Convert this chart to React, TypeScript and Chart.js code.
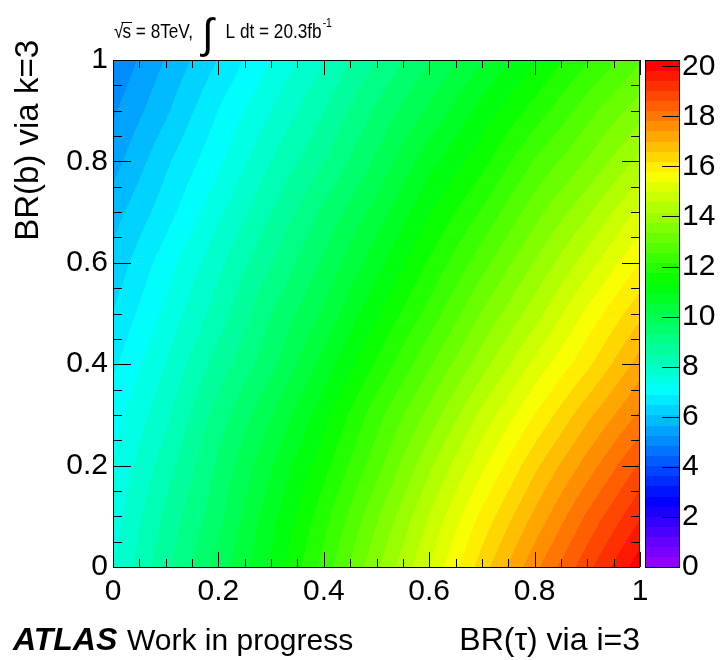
import { useEffect, useRef } from 'react';
import { Chart, registerables } from 'chart.js';

Chart.register(...registerables);

// Grid of the scan: BR(tau) along x, BR(b) along y
const brTau = [0, 0.1, 0.2, 0.3, 0.4, 0.5, 0.6, 0.7, 0.8, 0.9, 1];
const brB = [0, 0.1, 0.2, 0.3, 0.4, 0.5, 0.6, 0.7, 0.8, 0.9, 1];

// One row per BR(b) value (bottom to top), columns follow brTau
const rowB00 = [7.7, 8.8, 9.9, 11.0, 12.3, 13.7, 15.0, 16.4, 17.7, 18.9, 20.1];
const rowB01 = [7.5, 8.6, 9.6, 10.8, 12.0, 13.3, 14.6, 15.9, 17.1, 18.3, 19.4];
const rowB02 = [7.3, 8.3, 9.4, 10.5, 11.6, 12.8, 14.1, 15.3, 16.5, 17.6, 18.7];
const rowB03 = [7.1, 8.0, 9.1, 10.1, 11.2, 12.4, 13.5, 14.7, 15.8, 16.9, 17.9];
const rowB04 = [6.8, 7.7, 8.7, 9.6, 10.7, 11.8, 12.9, 14.0, 15.1, 16.1, 17.2];
const rowB05 = [6.5, 7.4, 8.3, 9.3, 10.2, 11.3, 12.3, 13.4, 14.4, 15.5, 16.5];
const rowB06 = [6.2, 7.1, 8.0, 8.9, 9.8, 10.8, 11.8, 12.8, 13.8, 14.8, 15.8];
const rowB07 = [5.9, 6.7, 7.6, 8.5, 9.4, 10.3, 11.3, 12.2, 13.2, 14.1, 15.1];
const rowB08 = [5.5, 6.4, 7.2, 8.1, 8.9, 9.8, 10.8, 11.6, 12.6, 13.4, 14.3];
const rowB09 = [5.2, 6.0, 6.9, 7.7, 8.5, 9.4, 10.2, 11.1, 11.9, 12.8, 13.6];
const rowB10 = [4.9, 5.7, 6.5, 7.3, 8.1, 8.9, 9.7, 10.5, 11.3, 12.1, 12.9];
const zRows = [rowB00, rowB01, rowB02, rowB03, rowB04, rowB05, rowB06, rowB07, rowB08, rowB09, rowB10];

const xTicks = [0, 0.2, 0.4, 0.6, 0.8, 1];
const yTicks = [0, 0.2, 0.4, 0.6, 0.8, 1];
const zTicks = [0, 2, 4, 6, 8, 10, 12, 14, 16, 18, 20];
const zMin = 0;
const zMax = 20.25;
const nLevels = 50;

const xTitle = 'BR(\u03c4) via i=3';
const yTitle = 'BR(b) via k=3';
const energyText = ' = 8TeV,';
const lumiText = 'L dt = 20.3fb';
const lumiExp = '-1';

const FONT = '"Liberation Sans", Arial, Helvetica, sans-serif';

function hslToRgb(h: number, s: number, l: number): [number, number, number] {
  const c = (1 - Math.abs(2 * l - 1)) * s;
  const hp = (((h % 360) + 360) % 360) / 60;
  const x = c * (1 - Math.abs((hp % 2) - 1));
  let r = 0, g = 0, b = 0;
  if (hp < 1) { r = c; g = x; }
  else if (hp < 2) { r = x; g = c; }
  else if (hp < 3) { g = c; b = x; }
  else if (hp < 4) { g = x; b = c; }
  else if (hp < 5) { r = x; b = c; }
  else { r = c; b = x; }
  const m = l - c / 2;
  return [Math.round((r + m) * 255), Math.round((g + m) * 255), Math.round((b + m) * 255)];
}

// violet -> red spectrum, one colour per contour level
const palette: [number, number, number][] = [];
for (let i = 0; i < nLevels; i++) palette.push(hslToRgb(280 - (i + 1) * (280 / nLevels), 1, 0.5));

function levelOf(v: number) {
  const i = Math.floor(((v - zMin) / (zMax - zMin)) * nLevels);
  return Math.max(0, Math.min(nLevels - 1, i));
}

function locate(arr: number[], v: number): [number, number] {
  let i = 0;
  while (i < arr.length - 2 && v > arr[i + 1]) i++;
  const t = (v - arr[i]) / (arr[i + 1] - arr[i]);
  return [i, Math.max(0, Math.min(1, t))];
}

function sampleZ(xv: number, yv: number) {
  const [i, tx] = locate(brTau, xv);
  const [j, ty] = locate(brB, yv);
  const r0 = zRows[j];
  const r1 = zRows[j + 1];
  const a = r0[i] * (1 - tx) + r0[i + 1] * tx;
  const b = r1[i] * (1 - tx) + r1[i + 1] * tx;
  return a * (1 - ty) + b * ty;
}

const fmt = (v: number) => String(Number(Number(v).toFixed(2)));

// draws text squeezed horizontally, returns its advance
function narrowText(ctx: CanvasRenderingContext2D, text: string, x: number, y: number, sx: number) {
  ctx.save();
  ctx.translate(x, y);
  ctx.scale(sx, 1);
  ctx.fillText(text, 0, 0);
  const w = ctx.measureText(text).width * sx;
  ctx.restore();
  return w;
}

const contourPlugin = {
  id: 'contourField',
  beforeDatasetsDraw(chart: any) {
    const { ctx, chartArea: a, scales } = chart;
    const sx = scales.x;
    const sy = scales.y;
    const w = Math.round(a.right - a.left);
    const h = Math.round(a.bottom - a.top);
    const off = document.createElement('canvas');
    off.width = w;
    off.height = h;
    const octx = off.getContext('2d')!;
    const img = octx.createImageData(w, h);
    const xs: number[] = [];
    for (let px = 0; px < w; px++) xs.push(sx.getValueForPixel(a.left + px + 0.5));
    for (let py = 0; py < h; py++) {
      const yv = sy.getValueForPixel(a.top + py + 0.5);
      for (let px = 0; px < w; px++) {
        const c = palette[levelOf(sampleZ(xs[px], yv))];
        const k = (py * w + px) * 4;
        img.data[k] = c[0];
        img.data[k + 1] = c[1];
        img.data[k + 2] = c[2];
        img.data[k + 3] = 255;
      }
    }
    octx.putImageData(img, 0, 0);
    ctx.save();
    ctx.imageSmoothingEnabled = false;
    ctx.drawImage(off, a.left, a.top);
    ctx.restore();
  },
  afterDraw(chart: any) {
    const { ctx, chartArea: a, scales } = chart;
    const sx = scales.x;
    const sy = scales.y;
    const sz = scales.z;
    ctx.save();
    ctx.strokeStyle = '#000';
    ctx.lineWidth = 1;

    // tick marks on all four sides, pointing inwards
    const minorX: number[] = [];
    for (let k = 0; k <= 20; k++) minorX.push(k * 0.05);
    ctx.beginPath();
    minorX.forEach((v) => {
      const major = xTicks.some((t) => Math.abs(t - v) < 1e-6);
      const len = major ? 15 : 8;
      const px = Math.round(sx.getPixelForValue(v)) + 0.5;
      ctx.moveTo(px, a.bottom);
      ctx.lineTo(px, a.bottom - len);
      ctx.moveTo(px, a.top);
      ctx.lineTo(px, a.top + len);
      const ylen = yTicks.some((t) => Math.abs(t - v) < 1e-6) ? 18 : 9;
      const py = Math.round(sy.getPixelForValue(v)) + 0.5;
      ctx.moveTo(a.left, py);
      ctx.lineTo(a.left + ylen, py);
      ctx.moveTo(a.right, py);
      ctx.lineTo(a.right - ylen, py);
    });
    ctx.stroke();

    // frame
    ctx.strokeRect(a.left + 0.5, a.top + 0.5, a.right - a.left - 1, a.bottom - a.top);

    // colour bar
    const cbL = a.right + 5;
    const cbR = a.right + 40;
    for (let i = 0; i < nLevels; i++) {
      const z0 = zMin + (i * (zMax - zMin)) / nLevels;
      const z1 = zMin + ((i + 1) * (zMax - zMin)) / nLevels;
      const p0 = sz.getPixelForValue(z0);
      const p1 = sz.getPixelForValue(z1);
      const c = palette[i];
      ctx.fillStyle = `rgb(${c[0]},${c[1]},${c[2]})`;
      ctx.fillRect(cbL, Math.floor(p1), cbR - cbL, Math.ceil(p0) - Math.floor(p1));
    }
    ctx.strokeRect(cbL + 0.5, sz.top + 0.5, cbR - cbL - 1, sz.bottom - sz.top);
    ctx.beginPath();
    zTicks.forEach((v) => {
      const py = Math.round(sz.getPixelForValue(v)) + 0.5;
      ctx.moveTo(cbR, py);
      ctx.lineTo(cbR - 18, py);
    });
    ctx.stroke();

    // axis titles
    ctx.fillStyle = '#000';
    ctx.font = `32px ${FONT}`;
    ctx.textBaseline = 'alphabetic';
    ctx.textAlign = 'right';
    ctx.fillText(xTitle, a.right, 650);

    ctx.save();
    ctx.translate(38, 40);
    ctx.rotate(-Math.PI / 2);
    ctx.font = `33px ${FONT}`;
    ctx.textAlign = 'right';
    ctx.fillText(yTitle, 0, 0);
    ctx.restore();

    // experiment label
    ctx.textAlign = 'left';
    ctx.font = `italic bold 32px ${FONT}`;
    narrowText(ctx, 'ATLAS', 13, 650, 1.0);
    ctx.font = `30px ${FONT}`;
    ctx.fillText('Work in progress', 127, 650);

    // energy and luminosity label
    const base = 38;
    const squeeze = 0.86;
    let tx = 114;
    ctx.font = `20px ${FONT}`;
    tx += narrowText(ctx, '\u221a', tx, base, squeeze) - 1;
    const sw = narrowText(ctx, 's', tx, base, squeeze);
    ctx.beginPath();
    ctx.moveTo(tx - 1, base - 15.5);
    ctx.lineTo(tx + sw + 1, base - 15.5);
    ctx.stroke();
    tx += sw;
    tx += narrowText(ctx, energyText, tx, base, squeeze) + 9;
    ctx.font = `42px ${FONT}`;
    tx += narrowText(ctx, '\u222b', tx, base + 10, 1) + 12;
    ctx.font = `20px ${FONT}`;
    tx += narrowText(ctx, lumiText, tx, base, squeeze) + 1;
    ctx.font = `12px ${FONT}`;
    narrowText(ctx, lumiExp, tx, base - 11, squeeze);
    ctx.restore();
  },
};

export default function App() {
  const ref = useRef<HTMLCanvasElement | null>(null);

  useEffect(() => {
    document.body.style.margin = '0';
    const canvas = ref.current;
    if (!canvas) return;
    const points: { x: number; y: number }[] = [];
    brB.forEach((yv) => brTau.forEach((xv) => points.push({ x: xv, y: yv })));

    const tickFont = { family: FONT, size: 30 };
    const chart = new Chart(canvas, {
      type: 'scatter',
      data: {
        datasets: [
          {
            label: 'scan points',
            data: points,
            pointRadius: 0,
            showLine: false,
          },
        ],
      },
      plugins: [contourPlugin],
      options: {
        responsive: false,
        animation: false,
        events: [],
        layout: { padding: { top: 57, bottom: 0, left: 0, right: 0 } },
        plugins: {
          legend: { display: false },
          tooltip: { enabled: false },
          title: { display: false },
        },
        scales: {
          x: {
            type: 'linear',
            position: 'bottom',
            min: 0,
            max: 1,
            grid: { display: false, drawTicks: false },
            border: { display: false },
            afterBuildTicks: (s: any) => {
              s.ticks = xTicks.map((value) => ({ value }));
            },
            afterFit: (s: any) => {
              s.height = 93;
            },
            ticks: {
              font: tickFont,
              color: '#000',
              padding: 7,
              maxRotation: 0,
              autoSkip: false,
              callback: (v: any) => fmt(v),
            },
          },
          y: {
            type: 'linear',
            position: 'left',
            min: 0,
            max: 1,
            grid: { display: false, drawTicks: false },
            border: { display: false },
            afterBuildTicks: (s: any) => {
              s.ticks = yTicks.map((value) => ({ value }));
            },
            afterFit: (s: any) => {
              s.width = 113;
            },
            ticks: {
              font: tickFont,
              color: '#000',
              padding: 5,
              autoSkip: false,
              callback: (v: any) => fmt(v),
            },
          },
          z: {
            type: 'linear',
            axis: 'y',
            position: 'right',
            min: zMin,
            max: zMax,
            grid: { display: false, drawTicks: false },
            border: { display: false },
            afterBuildTicks: (s: any) => {
              s.ticks = zTicks.map((value) => ({ value }));
            },
            afterFit: (s: any) => {
              s.width = 82;
            },
            ticks: {
              font: tickFont,
              color: '#000',
              padding: 42,
              autoSkip: false,
              callback: (v: any) => fmt(v),
            },
          },
        },
      } as any,
    });
    return () => chart.destroy();
  }, []);

  return (
    <div style={{ width: 722, height: 660, background: '#fff' }}>
      <canvas ref={ref} width={722} height={660} style={{ display: 'block' }} />
    </div>
  );
}
